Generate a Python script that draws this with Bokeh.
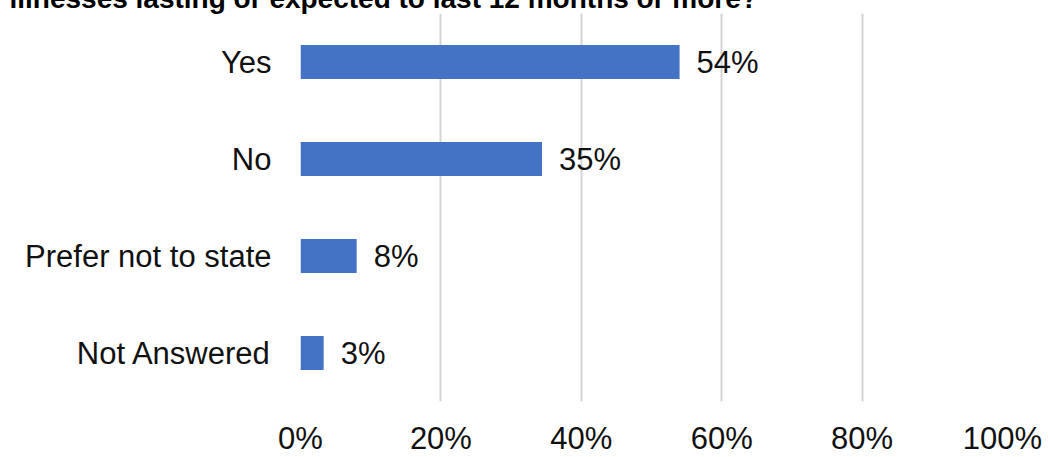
from bokeh.plotting import figure
from bokeh.layouts import column
from bokeh.models import ColumnDataSource, FactorRange, Range1d, FixedTicker, LabelSet
from bokeh.core.properties import value
from bokeh.embed import file_html
from bokeh.resources import INLINE

categories = ["Yes", "No", "Prefer not to state", "Not Answered"]
values = [54, 34.4, 8, 3.3]
value_labels = ["54%", "35%", "8%", "3%"]
x_ticks = [0, 20, 40, 60, 80, 100]
x_tick_labels = ["0%", "20%", "40%", "60%", "80%", "100%"]
title_text = "illnesses lasting or expected to last 12 months or more?"

FONT = "Liberation Sans"
FS = "31px"
TOP_SHIFT = 20      # part of the title that lies above the visible page
BOTTOM_EXTRA = 10   # spare room below, hidden by the wrapper
FIG_H = 457 + TOP_SHIFT + BOTTOM_EXTRA

src = ColumnDataSource(dict(cat=categories, val=values, lab=value_labels))

p = figure(
    y_range=FactorRange(*reversed(categories)),
    x_range=Range1d(0, 100),
    width=1048, height=FIG_H,
    output_backend="svg", toolbar_location=None,
    min_border_left=300, min_border_right=46, min_border_top=0,
    min_border_bottom=56 + BOTTOM_EXTRA,
    title=title_text,
    styles={"margin-top": f"-{TOP_SHIFT}px", "flex-shrink": "0",
            "min-height": f"{FIG_H}px"},
)
p.title.text_font = FONT
p.title.text_font_size = "28px"
p.title.text_font_style = "bold"
p.title.text_color = "#000000"
p.title.align = "left"
p.title.standoff = 0
p.title.offset = -291

p.outline_line_color = None
p.background_fill_color = "white"
p.border_fill_color = "white"

p.hbar(y="cat", right="val", left=0, height=0.35, source=src,
       fill_color="#4472C4", line_color=None)

p.add_layout(LabelSet(x="val", y="cat", text="lab", source=src, x_offset=17,
                      text_baseline="middle", text_align="left",
                      text_font=value(FONT), text_font_size=FS, text_color="#111111"))

p.xaxis.ticker = FixedTicker(ticks=x_ticks)
p.xaxis.major_label_overrides = {t: l for t, l in zip(x_ticks, x_tick_labels)}
p.xaxis.axis_line_color = None
p.xaxis.major_tick_line_color = None
p.xaxis.minor_tick_line_color = None
p.xaxis.major_tick_in = 0
p.xaxis.major_tick_out = 0
p.xaxis.minor_tick_out = 0
p.xaxis.axis_label_standoff = 0
p.xaxis.major_label_standoff = 19
p.xaxis.major_label_text_font = FONT
p.xaxis.major_label_text_font_size = FS
p.xaxis.major_label_text_color = "#111111"

p.yaxis.axis_line_color = None
p.yaxis.major_tick_line_color = None
p.yaxis.major_tick_in = 0
p.yaxis.major_tick_out = 0
p.yaxis.minor_tick_out = 0
p.yaxis.major_label_standoff = 29
p.yaxis.major_label_text_font = FONT
p.yaxis.major_label_text_font_size = FS
p.yaxis.major_label_text_color = "#111111"

p.ygrid.grid_line_color = None
p.xgrid.ticker = FixedTicker(ticks=x_ticks)
p.xgrid.grid_line_color = "#d4d4d4"
p.xgrid.grid_line_width = 2

layout = column(p, width=1048, height=457, styles={"overflow": "hidden"})

open("out.html", "w").write(file_html(layout, INLINE))
